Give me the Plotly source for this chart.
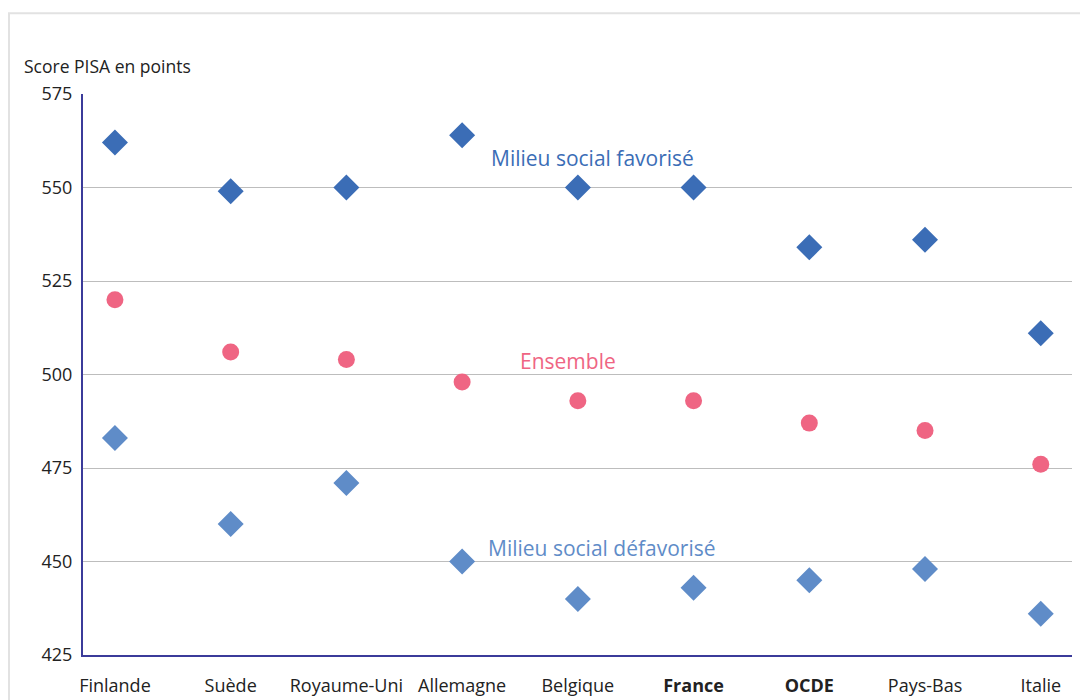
import plotly.graph_objects as go

pays = ["Finlande", "Suède", "Royaume-Uni", "Allemagne", "Belgique",
        "France", "OCDE", "Pays-Bas", "Italie"]
etiquettes = ["Finlande", "Suède", "Royaume-Uni", "Allemagne", "Belgique",
              "<b>France</b>", "<b>OCDE</b>", "Pays-Bas", "Italie"]
favorise = [562, 549, 550, 564, 550, 550, 534, 536, 511]
ensemble = [520, 506, 504, 498, 493, 493, 487, 485, 476]
defavorise = [483, 460, 471, 450, 440, 443, 445, 448, 436]

FONT = "Open Sans"
C_FAV = "#3b6db6"
C_DEF = "#5f8cc8"
C_ENS = "#ef6583"
C_AXE = "#3b3b9a"

fig = go.Figure()
fig.add_trace(go.Scatter(x=pays, y=favorise, mode="markers",
                         marker=dict(symbol="diamond", size=20, color=C_FAV),
                         name="Milieu social favorisé"))
fig.add_trace(go.Scatter(x=pays, y=ensemble, mode="markers",
                         marker=dict(symbol="circle", size=17, color=C_ENS),
                         name="Ensemble"))
fig.add_trace(go.Scatter(x=pays, y=defavorise, mode="markers",
                         marker=dict(symbol="diamond", size=20, color=C_DEF),
                         name="Milieu social défavorisé"))

# la page ajoute une marge de 8 px autour du graphique
fig.update_layout(
    width=1088, height=700,
    margin=dict(l=75, r=24, t=86, b=53),
    paper_bgcolor="white", plot_bgcolor="white",
    showlegend=False,
    font=dict(family=FONT, size=18, color="#222222"),
)
fig.update_xaxes(
    type="category", range=[-0.276, 8.27],
    tickvals=pays, ticktext=etiquettes,
    showgrid=False, showline=True, linecolor=C_AXE, linewidth=2,
    ticks="", ticklabelstandoff=13, automargin=False,
    tickfont=dict(size=18, color="#222222"),
)
fig.update_yaxes(
    range=[425, 575], tickvals=[425, 450, 475, 500, 525, 550, 575],
    showgrid=True, gridcolor="#bdbdbd", gridwidth=1,
    showline=True, linecolor=C_AXE, linewidth=2,
    ticks="", ticklabelstandoff=5, zeroline=False, automargin=False,
    tickfont=dict(size=18, color="#222222"),
)

fig.add_annotation(text="Score PISA en points", xref="paper", yref="paper",
                   x=-0.0617, y=1.05, xanchor="left", yanchor="middle",
                   showarrow=False, font=dict(size=17.5, color="#222222"))
fig.add_annotation(text="Milieu social favorisé", xref="paper", x=0.4105, y=557.9,
                   xanchor="left", yanchor="middle", showarrow=False,
                   font=dict(size=21, color=C_FAV))
fig.add_annotation(text="Ensemble", xref="paper", x=0.4399, y=503.6,
                   xanchor="left", yanchor="middle", showarrow=False,
                   font=dict(size=21, color=C_ENS))
fig.add_annotation(text="Milieu social défavorisé", xref="paper", x=0.4075, y=453.6,
                   xanchor="left", yanchor="middle", showarrow=False,
                   font=dict(size=21, color=C_DEF))

# cadre gris clair autour du graphique
fig.add_shape(type="rect", xref="paper", yref="paper",
              x0=-0.0748, x1=1.05, y0=-0.2, y1=1.144,
              line=dict(color="#e2e2e2", width=2), layer="below")

fig.write_html("out.html")
